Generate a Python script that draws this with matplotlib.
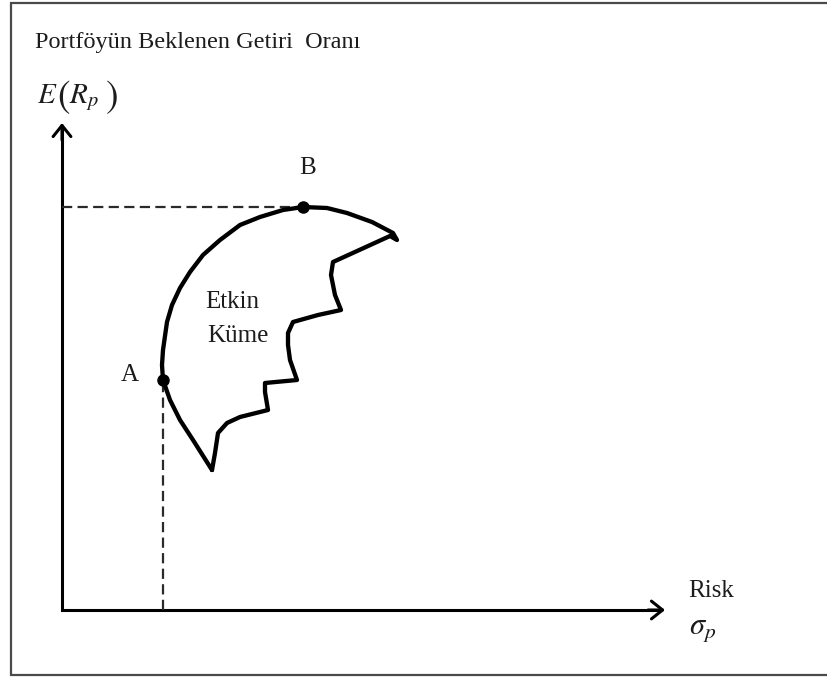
import matplotlib
matplotlib.use("Agg")
import matplotlib.pyplot as plt

# risk (sigma_p) and return E(R_p) measured from the axis corner
outer_risk = [150, 131, 118, 108, 101, 100, 101, 105, 110, 118, 128, 141, 158, 178, 198,
              221, 241, 265, 285, 310, 331, 335, 328]
outer_ret = [140, 170, 190, 210, 230, 245, 260, 288, 305, 322, 338, 355, 370, 385, 393,
             400, 403, 402, 397, 388, 377, 370, 374]
inner_risk = [271, 269, 273, 279, 256, 231, 226, 226, 228, 235, 203, 203, 206, 178, 165,
              156, 153, 150]
inner_ret = [348, 335, 315, 300, 295, 288, 277, 265, 250, 230, 227, 218, 200, 193, 187,
             177, 157, 140]

point_A = (101, 230)
point_B = (241, 403)

title_text = "Portföyün Beklenen Getiri  Oranı"
set_label = ["Etkin", "Küme"]

fig = plt.figure(figsize=(8.28, 6.77), dpi=100)
ax = fig.add_axes([0, 0, 1, 1])
ax.set_xlim(-62, 766)
ax.set_ylim(-67, 610)
ax.axis("off")

plt.rcParams['mathtext.fontset'] = 'stix'
serif = "Liberation Serif"
tc = "#1c1c1c"

# frame around the picture
ax.plot([766, -51, -51, 766], [607.5, 607.5, -65, -65], color="#4a4a4a", lw=1.6,
        solid_joinstyle="miter", clip_on=False)

# axes with arrow heads
ax.plot([0, 0, 596], [480, 0, 0], color="black", lw=2.2, solid_joinstyle="miter")
arrow = dict(arrowstyle="->,head_length=0.4,head_width=0.32", lw=2.2, color="black",
             shrinkA=0, shrinkB=0, mutation_scale=20)
ax.annotate("", xy=(0, 487), xytext=(0, 470), arrowprops=arrow)
ax.annotate("", xy=(603, 0), xytext=(586, 0), arrowprops=arrow)

# dashed guide lines
ax.plot([point_A[0], point_A[0]], [0, point_A[1]], color="#2a2a2a", lw=1.6,
        linestyle=(0, (4.6, 2.4)))
ax.plot([0, point_B[0]], [point_B[1], point_B[1]], color="#2a2a2a", lw=1.6,
        linestyle=(0, (4.6, 2.4)))

# efficient set outline
ax.plot(outer_risk + inner_risk, outer_ret + inner_ret, color="black", lw=3.1,
        solid_joinstyle="round", solid_capstyle="round")
ax.plot(*point_A, "o", color="black", ms=8)
ax.plot(*point_B, "o", color="black", ms=8)

# texts
ax.text(-27, 562, title_text, fontsize=17.5, family=serif, color=tc, va="baseline")
# E(R_p) with tall parentheses
ax.text(-25, 507, r"$E$", fontsize=21, color=tc, va="baseline")
ax.text(-5, 503, "(", fontsize=27, family="STIXGeneral", color=tc, va="baseline")
ax.text(7, 507, r"$R_p$", fontsize=21, color=tc, va="baseline")
ax.text(44, 503, ")", fontsize=27, family="STIXGeneral", color=tc, va="baseline")
ax.text(246, 436, "B", fontsize=18, family=serif, color=tc, va="baseline", ha="center")
ax.text(68, 229, "A", fontsize=18, family=serif, color=tc, va="baseline", ha="center")
ax.text(143, 302, set_label[0], fontsize=18, family=serif, color=tc, va="baseline")
ax.text(145, 268, set_label[1], fontsize=18, family=serif, color=tc, va="baseline")
ax.text(626, 13, "Risk", fontsize=18, family=serif, color=tc, va="baseline")
ax.text(627, -24, r"$\sigma_p$", fontsize=22, color=tc, va="baseline")

fig.savefig("out.png", dpi=100)
